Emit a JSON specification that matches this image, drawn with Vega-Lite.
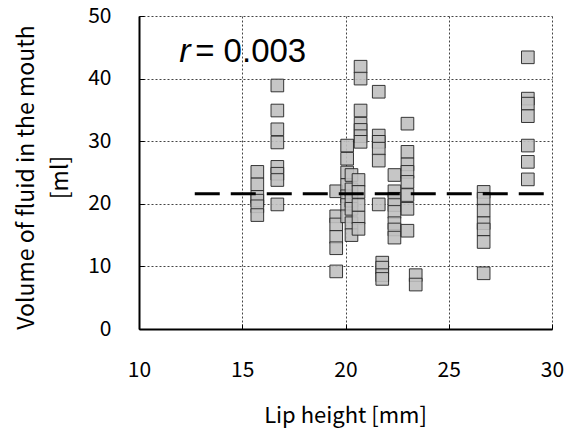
{
  "$schema": "https://vega.github.io/schema/vega-lite/v6.json",
  "width": 413,
  "height": 313,
  "autosize": {"type": "none"},
  "padding": {"left": 139, "top": 16, "right": 23, "bottom": 106},
  "background": "white",
  "config": {"view": {"stroke": null}, "font": "Noto Sans CJK JP"},
  "layer": [
    {
      "data": {"values": [
        {"lip": 15.73, "vol": 25.1}, {"lip": 15.73, "vol": 23.1}, {"lip": 15.73, "vol": 21.1}, {"lip": 15.73, "vol": 20.5}, {"lip": 15.73, "vol": 19.6}, {"lip": 15.73, "vol": 18.2},
        {"lip": 16.7, "vol": 38.9}, {"lip": 16.7, "vol": 34.9}, {"lip": 16.7, "vol": 31.9}, {"lip": 16.7, "vol": 29.8}, {"lip": 16.7, "vol": 25.9}, {"lip": 16.7, "vol": 24.8}, {"lip": 16.7, "vol": 23.8}, {"lip": 16.7, "vol": 19.9},
        {"lip": 19.55, "vol": 22.0}, {"lip": 19.55, "vol": 18.0}, {"lip": 19.55, "vol": 16.7}, {"lip": 19.55, "vol": 14.7}, {"lip": 19.55, "vol": 12.9}, {"lip": 19.55, "vol": 9.2},
        {"lip": 20.08, "vol": 29.3}, {"lip": 20.08, "vol": 27.2}, {"lip": 20.08, "vol": 25.0}, {"lip": 20.08, "vol": 23.0}, {"lip": 20.08, "vol": 21.2}, {"lip": 20.08, "vol": 19.8}, {"lip": 20.08, "vol": 18.0},
        {"lip": 20.29, "vol": 24.6}, {"lip": 20.29, "vol": 22.3}, {"lip": 20.29, "vol": 20.5}, {"lip": 20.29, "vol": 19.2}, {"lip": 20.29, "vol": 16.9}, {"lip": 20.29, "vol": 15.0},
        {"lip": 20.63, "vol": 23.8}, {"lip": 20.63, "vol": 21.9}, {"lip": 20.63, "vol": 19.8}, {"lip": 20.63, "vol": 17.8}, {"lip": 20.63, "vol": 16.0},
        {"lip": 20.73, "vol": 41.9}, {"lip": 20.73, "vol": 40.0}, {"lip": 20.73, "vol": 34.9}, {"lip": 20.73, "vol": 32.8}, {"lip": 20.73, "vol": 31.8}, {"lip": 20.73, "vol": 30.8}, {"lip": 20.73, "vol": 29.9},
        {"lip": 21.61, "vol": 37.9}, {"lip": 21.61, "vol": 30.9}, {"lip": 21.61, "vol": 29.9}, {"lip": 21.61, "vol": 28.8}, {"lip": 21.61, "vol": 26.9}, {"lip": 21.61, "vol": 19.9},
        {"lip": 21.78, "vol": 10.6}, {"lip": 21.78, "vol": 9.8}, {"lip": 21.78, "vol": 8.6}, {"lip": 21.78, "vol": 8.0},
        {"lip": 22.37, "vol": 24.6}, {"lip": 22.37, "vol": 22.0}, {"lip": 22.37, "vol": 20.8}, {"lip": 22.37, "vol": 19.8}, {"lip": 22.37, "vol": 18.7}, {"lip": 22.37, "vol": 16.9}, {"lip": 22.37, "vol": 15.9}, {"lip": 22.37, "vol": 14.6},
        {"lip": 23.0, "vol": 32.8}, {"lip": 23.0, "vol": 28.3}, {"lip": 23.0, "vol": 26.3}, {"lip": 23.0, "vol": 25.1}, {"lip": 23.0, "vol": 23.5}, {"lip": 23.0, "vol": 21.4}, {"lip": 23.0, "vol": 19.2}, {"lip": 23.0, "vol": 15.7},
        {"lip": 23.4, "vol": 8.6}, {"lip": 23.4, "vol": 7.1},
        {"lip": 26.69, "vol": 21.9}, {"lip": 26.69, "vol": 20.8}, {"lip": 26.69, "vol": 18.9}, {"lip": 26.69, "vol": 16.9}, {"lip": 26.69, "vol": 15.9}, {"lip": 26.69, "vol": 13.9}, {"lip": 26.69, "vol": 8.9},
        {"lip": 28.83, "vol": 43.4}, {"lip": 28.83, "vol": 36.8}, {"lip": 28.83, "vol": 36.0}, {"lip": 28.83, "vol": 34.0}, {"lip": 28.83, "vol": 29.3}, {"lip": 28.83, "vol": 26.7}, {"lip": 28.83, "vol": 23.9}
      ]},
      "mark": {"type": "point", "shape": "square", "filled": true, "size": 160, "fill": "#c0c0c0", "stroke": "#222222", "strokeWidth": 1, "opacity": 1, "fillOpacity": 0.9, "strokeOpacity": 0.9},
      "encoding": {
        "x": {
          "field": "lip", "type": "quantitative",
          "scale": {"domain": [10, 30], "nice": false, "zero": false},
          "axis": {
            "values": [10, 15, 20, 25, 30],
            "title": "Lip height [mm]",
            "grid": true, "gridDash": [2, 2], "gridColor": "#444444", "gridWidth": 1,
            "domainColor": "black", "domainWidth": 2,
            "ticks": true, "tickColor": "black", "tickSize": -5, "tickWidth": 1,
            "labelFontSize": 21, "labelColor": "black", "labelPadding": 35, "labelFlush": false, "labelBaseline": "top",
            "titleFontSize": 22, "titleFontWeight": "normal", "titleColor": "black",
            "titleX": 206, "titleY": 86, "titleBaseline": "middle", "titleAlign": "center"
          }
        },
        "y": {
          "field": "vol", "type": "quantitative",
          "scale": {"domain": [0, 50], "nice": false},
          "axis": {
            "values": [0, 10, 20, 30, 40, 50],
            "title": ["Volume of fluid in the mouth", "[ml]"],
            "grid": true, "gridDash": [2, 2], "gridColor": "#444444", "gridWidth": 1,
            "domainColor": "black", "domainWidth": 2,
            "ticks": true, "tickColor": "black", "tickSize": -5, "tickWidth": 1,
            "labelFontSize": 21, "labelColor": "black", "labelPadding": 33, "labelFlush": false,
            "titleFontSize": 23, "titleFontWeight": "normal", "titleColor": "black",
            "titleX": -113, "titleY": 161, "titleAngle": 270, "titleAlign": "center", "titleBaseline": "middle", "titleLineHeight": 34
          }
        }
      }
    },
    {
      "data": {"values": [{"lip": 12.7, "vol": 21.6}, {"lip": 29.95, "vol": 21.6}]},
      "mark": {"type": "line", "color": "black", "strokeWidth": 3, "strokeDash": [25, 11]},
      "encoding": {
        "x": {"field": "lip", "type": "quantitative"},
        "y": {"field": "vol", "type": "quantitative"}
      }
    },
    {
      "data": {"values": [{"lip": 12.22, "vol": 42.6, "t": "r"}]},
      "mark": {"type": "text", "font": "Liberation Sans", "fontStyle": "italic", "fontSize": 34, "align": "center", "baseline": "alphabetic", "color": "black"},
      "encoding": {
        "x": {"field": "lip", "type": "quantitative"},
        "y": {"field": "vol", "type": "quantitative"},
        "text": {"field": "t"}
      }
    },
    {
      "data": {"values": [{"lip": 12.72, "vol": 42.6, "t": "= 0.003"}]},
      "mark": {"type": "text", "font": "Liberation Sans", "fontSize": 33, "align": "left", "baseline": "alphabetic", "color": "black"},
      "encoding": {
        "x": {"field": "lip", "type": "quantitative"},
        "y": {"field": "vol", "type": "quantitative"},
        "text": {"field": "t"}
      }
    }
  ]
}
